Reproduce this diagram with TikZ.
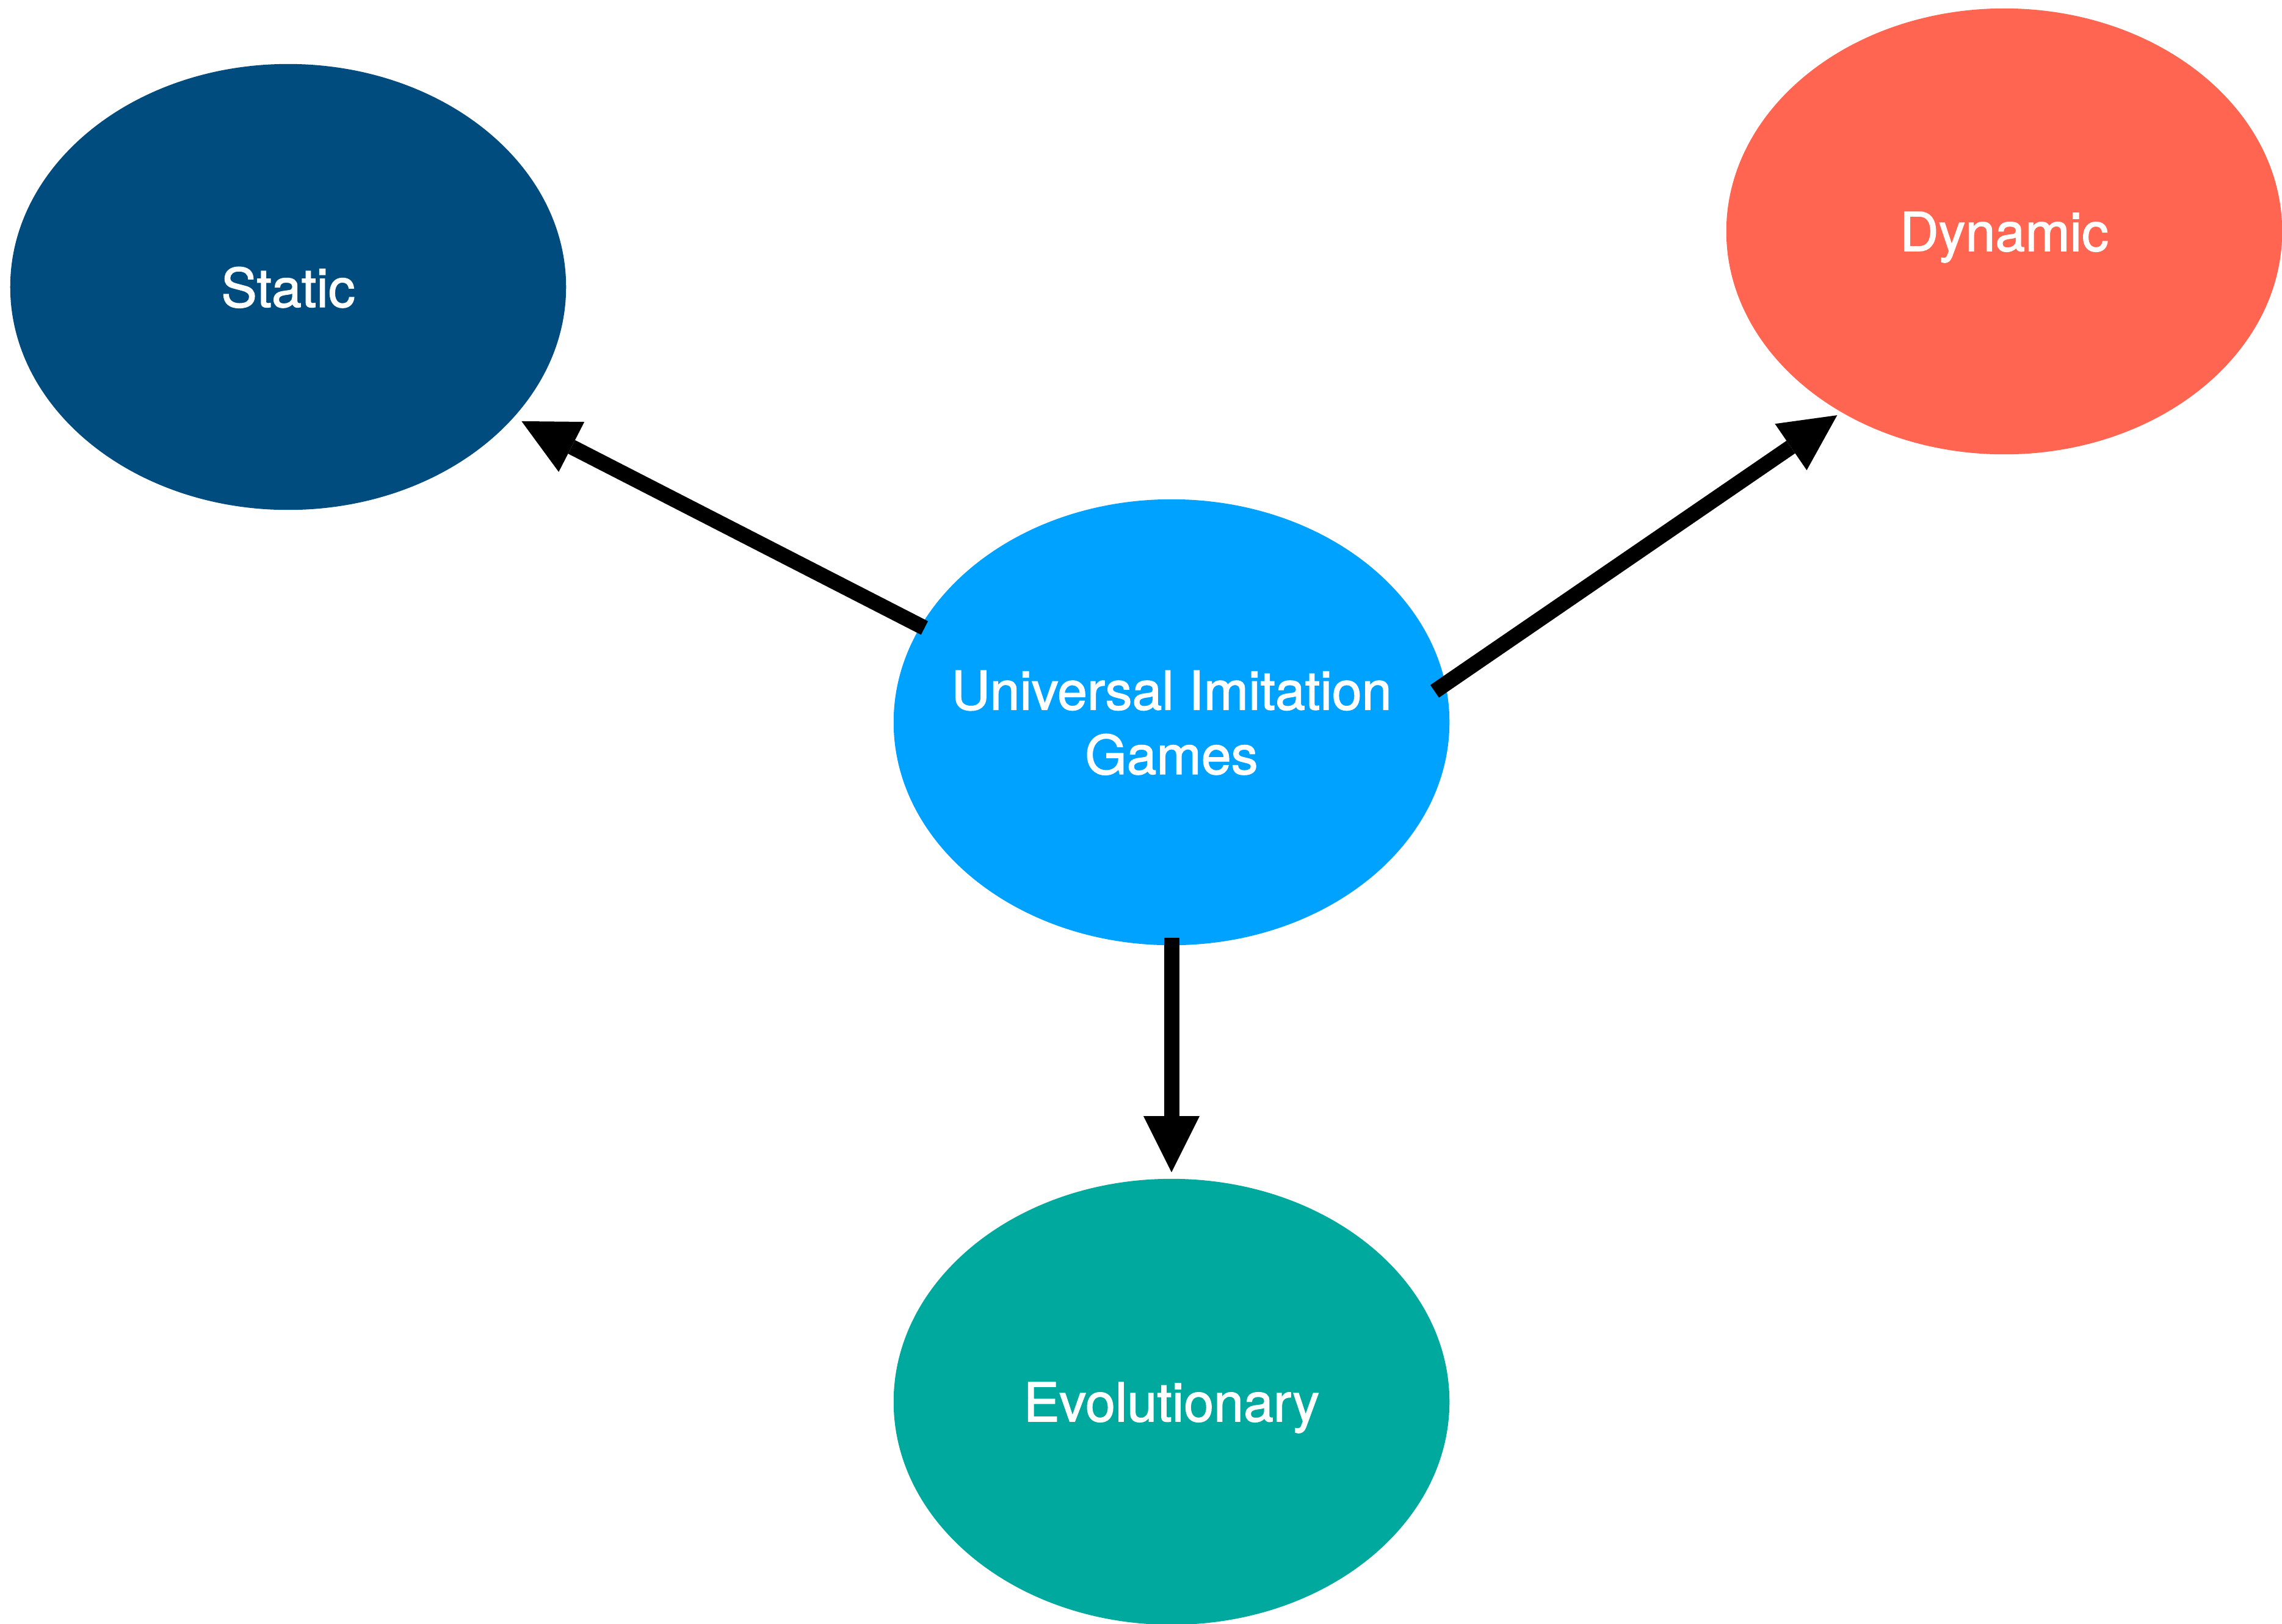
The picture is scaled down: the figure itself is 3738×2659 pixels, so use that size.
\documentclass[tikz,border=0pt]{standalone}
\usepackage{fontspec}
\setmainfont{TeX Gyre Heros}
% regular Helvetica-style face, slightly thickened
\newfontfamily\captionfont{TeX Gyre Heros}[FakeBold=1.6]
\usetikzlibrary{shapes.geometric,arrows.meta}

\definecolor{staticblue}{RGB}{0,76,126}
\definecolor{dynamicred}{RGB}{255,101,80}
\definecolor{coreblue}{RGB}{0,162,255}
\definecolor{evoteal}{RGB}{0,169,158}

\tikzset{
  bubble/.style={ellipse, draw=none, minimum width=9.1cm, minimum height=7.3cm, inner sep=0pt},
  caption/.style={text=white, align=center, inner sep=0pt, text depth=0pt,
    font=\captionfont\fontsize{25pt}{30pt}\selectfont},
  link/.style={line width=0.25cm, line cap=butt,
    -{Triangle[length=0.92cm, width=0.92cm, line width=0pt]}},
}

\begin{document}
\begin{tikzpicture}[x=0.01cm, y=-0.01cm]
  \useasboundingbox (0,0) rectangle (3738,2659);

  % category bubbles
  \node[bubble, fill=staticblue]  (static)  at (472,470)   {};
  \node[bubble, fill=dynamicred]  (dynamic) at (3283,379)  {};
  \node[bubble, fill=coreblue]    (core)    at (1919,1183) {};
  \node[bubble, fill=evoteal]     (evo)     at (1919,2296) {};

  % captions
  \node[caption] (static-text)  at (static)  {Static};
  \node[caption] (dynamic-text) at (dynamic) {Dynamic};
  \node[caption] (core-text)    at (core)    {Universal Imitation\\Games};
  \node[caption] (evo-text)     at (evo)     {Evolutionary};

  % arrows from the central bubble
  \draw[link, shorten <=-0.075cm, shorten >=0.137cm] (core.159.3) -- (static.-30.09);
  \draw[link, shorten <=-0.22cm, shorten >=0.08cm] (core.8.34) -- (dynamic.228.2);
  \draw[link, shorten <=-0.13cm, shorten >=0.1cm] (core.south) -- (evo.north);
\end{tikzpicture}
\end{document}
